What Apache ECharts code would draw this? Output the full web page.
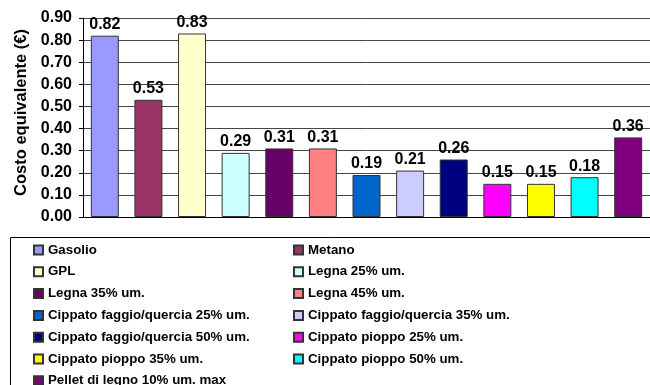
<!DOCTYPE html>
<html>
<head>
<meta charset="utf-8">
<script src="https://cdn.jsdelivr.net/npm/echarts@6/dist/echarts.min.js"></script>
<style>
html,body{margin:0;padding:0;background:#fff;}
#chart{width:650px;height:385px;}
</style>
</head>
<body>
<div id="chart"></div>
<script>
const categories = [
  "Gasolio", "Metano", "GPL", "Legna 25% um.", "Legna 35% um.", "Legna 45% um.",
  "Cippato faggio/quercia 25% um.", "Cippato faggio/quercia 35% um.",
  "Cippato faggio/quercia 50% um.", "Cippato pioppo 25% um.",
  "Cippato pioppo 35% um.", "Cippato pioppo 50% um.", "Pellet di legno 10% um. max"
];
const values = [0.82, 0.53, 0.83, 0.29, 0.31, 0.31, 0.19, 0.21, 0.26, 0.15, 0.15, 0.18, 0.36];
const yTicks = [0, 0.1, 0.2, 0.3, 0.4, 0.5, 0.6, 0.7, 0.8, 0.9];
const colors = ["#9999FF", "#993366", "#FFFFCC", "#CCFFFF", "#660066", "#FF8080",
  "#0066CC", "#CCCCFF", "#000080", "#FF00FF", "#FFFF00", "#00FFFF", "#800080"];

const FONT = "Liberation Sans, Arial, sans-serif";
const chart = echarts.init(document.getElementById('chart'), null, {renderer: 'canvas'});

const series = categories.map((name, i) => ({
  name: name,
  type: 'bar',
  barWidth: 28,
  barGap: '-100%',
  data: values.map((v, j) => (j === i ? v : '-')),
  itemStyle: {color: colors[i], borderColor: '#333', borderWidth: 1},
  label: {
    show: true, position: 'top', distance: 3,
    formatter: p => Number(p.value).toFixed(2),
    fontFamily: FONT, fontWeight: 'bold', fontSize: 16, color: '#000'
  },
  animation: false
}));

const legendBase = {
  orient: 'vertical',
  top: 243,
  height: 300,
  padding: 0,
  itemWidth: 9,
  itemHeight: 9,
  itemGap: 7.8,
  icon: 'rect',
  selectedMode: false,
  textStyle: {fontFamily: FONT, fontWeight: 'bold', fontSize: 13.3, color: '#000', lineHeight: 14}
};

chart.setOption({
  backgroundColor: '#fff',
  animation: false,
  grid: {left: 83, top: 18, width: 570, bottom: 168, containLabel: false},
  xAxis: {
    type: 'category',
    data: categories,
    axisLine: {show: true, lineStyle: {color: '#000', width: 1}},
    axisTick: {show: false},
    axisLabel: {show: false},
    splitLine: {show: false}
  },
  yAxis: {
    type: 'value',
    min: yTicks[0],
    max: yTicks[yTicks.length - 1],
    interval: 0.1,
    name: 'Costo equivalente (€)',
    nameLocation: 'middle',
    nameRotate: 90,
    nameGap: 52,
    nameTextStyle: {fontFamily: FONT, fontWeight: 'bold', fontSize: 16.5, color: '#000', padding: [0, 0, 0, 10]},
    axisLine: {show: true, lineStyle: {color: '#000', width: 1}},
    axisTick: {show: true, inside: false, length: 4, lineStyle: {color: '#000'}},
    axisLabel: {
      formatter: v => v.toFixed(2), margin: 11,
      fontFamily: FONT, fontWeight: 'bold', fontSize: 16, color: '#000'
    },
    splitLine: {show: true, lineStyle: {color: '#444', width: 1}}
  },
  legend: [
    Object.assign({}, legendBase, {left: 33, data: categories.filter((c, i) => i % 2 === 0)}),
    Object.assign({}, legendBase, {left: 293, data: categories.filter((c, i) => i % 2 === 1)})
  ],
  graphic: [{
    type: 'rect',
    shape: {x: 10.5, y: 237.5, width: 700, height: 200},
    style: {fill: 'none', stroke: '#000', lineWidth: 1},
    z: -1
  }],
  series: series
});
</script>
</body>
</html>
